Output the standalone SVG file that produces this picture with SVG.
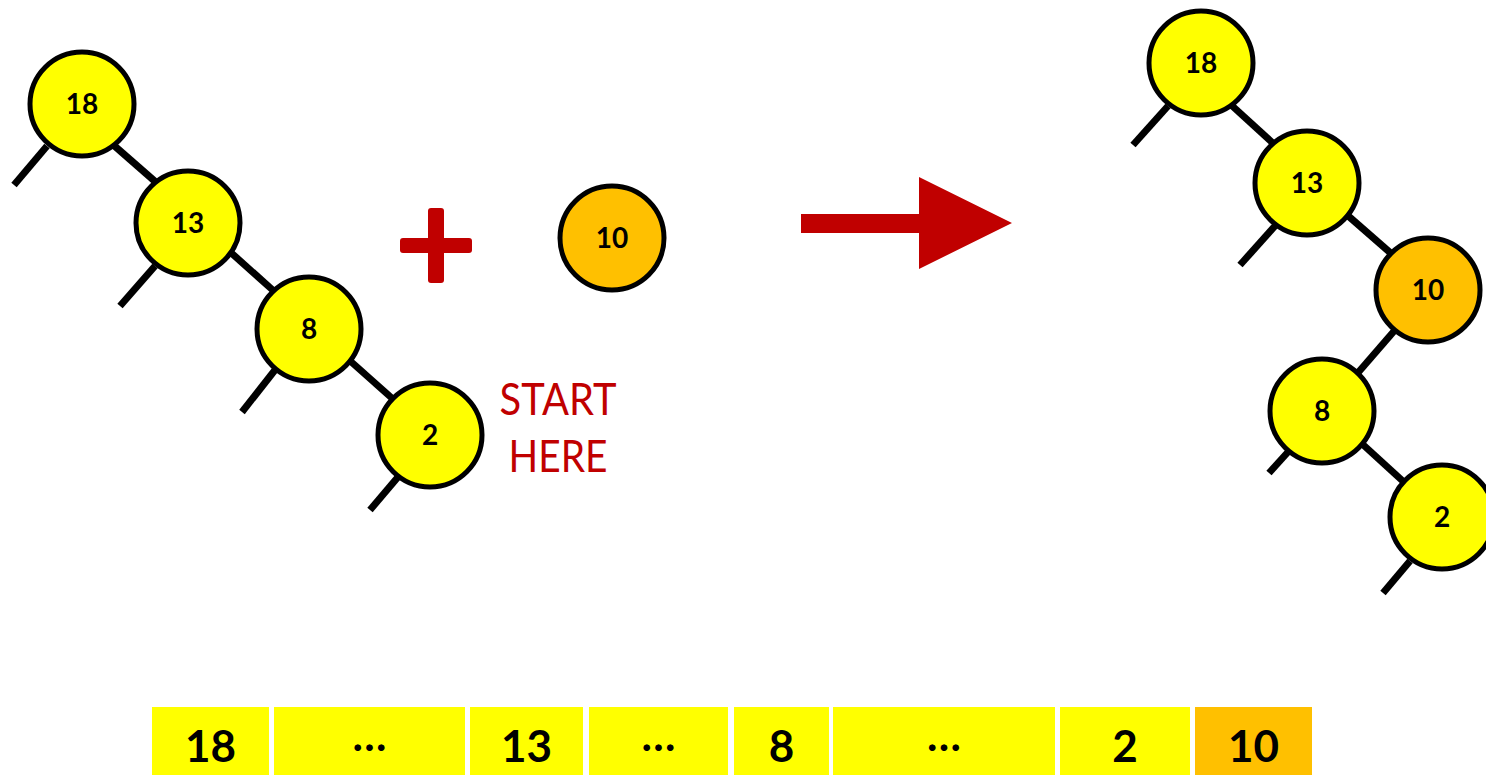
<svg xmlns="http://www.w3.org/2000/svg" width="1486" height="775" viewBox="0 0 1486 775">
<style>
.edge{stroke:#000;stroke-width:7;fill:none}
.node circle{stroke:#000;stroke-width:5}
.y{fill:#FFFF00}
.o{fill:#FFC000}
.lbl{font-family:Lato,"Liberation Sans",sans-serif;font-weight:bold;font-size:28px;fill:#000;text-anchor:middle}
.cell text{font-family:Lato,"Liberation Sans",sans-serif;font-weight:bold;font-size:44px;fill:#000;text-anchor:middle}
.red{fill:#C00000}
</style>
<rect width="1486" height="775" fill="#fff"/>
<g id="connectors">
<line class="edge" x1="47" y1="146" x2="14" y2="185"/>
<line class="edge" x1="110" y1="142" x2="158" y2="184"/>
<line class="edge" x1="155" y1="266" x2="120" y2="306"/>
<line class="edge" x1="228" y1="250" x2="276" y2="293"/>
<line class="edge" x1="275" y1="370" x2="242" y2="412"/>
<line class="edge" x1="348" y1="359" x2="394" y2="400"/>
<line class="edge" x1="398" y1="477" x2="370" y2="510"/>
<line class="edge" x1="1168" y1="106" x2="1133" y2="145"/>
<line class="edge" x1="1229" y1="103" x2="1276" y2="146"/>
<line class="edge" x1="1275" y1="226" x2="1240" y2="265"/>
<line class="edge" x1="1346" y1="214" x2="1394" y2="256"/>
<line class="edge" x1="1395" y1="330" x2="1356" y2="375"/>
<line class="edge" x1="1288" y1="452" x2="1269" y2="473"/>
<line class="edge" x1="1359" y1="441" x2="1406" y2="484"/>
<line class="edge" x1="1410" y1="561" x2="1383" y2="593"/>
</g>
<g id="node-l18" class="node"><circle class="y" cx="82" cy="104" r="52"/><text class="lbl" x="82" y="114">18</text></g>
<g id="node-l13" class="node"><circle class="y" cx="188" cy="223" r="52"/><text class="lbl" x="188" y="233">13</text></g>
<g id="node-l8" class="node"><circle class="y" cx="309" cy="329" r="52"/><text class="lbl" x="309" y="339">8</text></g>
<g id="node-l2" class="node"><circle class="y" cx="430" cy="435" r="52"/><text class="lbl" x="430" y="445">2</text></g>
<g id="node-new10" class="node"><circle class="o" cx="612" cy="238" r="52"/><text class="lbl" x="612" y="248">10</text></g>
<g id="node-r18" class="node"><circle class="y" cx="1201" cy="63" r="52"/><text class="lbl" x="1201" y="73">18</text></g>
<g id="node-r13" class="node"><circle class="y" cx="1307" cy="183" r="52"/><text class="lbl" x="1307" y="193">13</text></g>
<g id="node-r10" class="node"><circle class="o" cx="1428" cy="290" r="52"/><text class="lbl" x="1428" y="300">10</text></g>
<g id="node-r8" class="node"><circle class="y" cx="1322" cy="411" r="52"/><text class="lbl" x="1322" y="421">8</text></g>
<g id="node-r2" class="node"><circle class="y" cx="1442" cy="517" r="52"/><text class="lbl" x="1442" y="527">2</text></g>
<g id="plus">
<rect class="red" x="400" y="238" width="72" height="15" rx="3"/>
<rect class="red" x="428" y="208" width="16" height="75" rx="3"/>
</g>
<g id="arrow">
<polygon class="red" points="801,214 919,214 919,177 1012,223 919,269 919,233 801,233"/>
</g>
<g id="start-label" font-family="Lato,'Liberation Sans',sans-serif" font-size="44" fill="#C00000" text-anchor="middle">
<text x="558" y="415" textLength="117" lengthAdjust="spacingAndGlyphs">START</text>
<text x="558" y="472" textLength="99" lengthAdjust="spacingAndGlyphs">HERE</text>
</g>
<g id="array">
<g class="cell"><rect class="y" x="152" y="707" width="117" height="68"/><text x="210.5" y="762">18</text></g>
<g class="cell"><rect class="y" x="274" y="707" width="191" height="68"/><text x="369.5" y="751">…</text></g>
<g class="cell"><rect class="y" x="470" y="707" width="113" height="68"/><text x="526.5" y="762">13</text></g>
<g class="cell"><rect class="y" x="589" y="707" width="139" height="68"/><text x="658.5" y="751">…</text></g>
<g class="cell"><rect class="y" x="734" y="707" width="95" height="68"/><text x="781.5" y="762">8</text></g>
<g class="cell"><rect class="y" x="833" y="707" width="222" height="68"/><text x="944" y="751">…</text></g>
<g class="cell"><rect class="y" x="1060" y="707" width="130" height="68"/><text x="1125" y="762">2</text></g>
<g class="cell"><rect class="o" x="1195" y="707" width="117" height="68"/><text x="1253.5" y="762">10</text></g>
</g>
</svg>
